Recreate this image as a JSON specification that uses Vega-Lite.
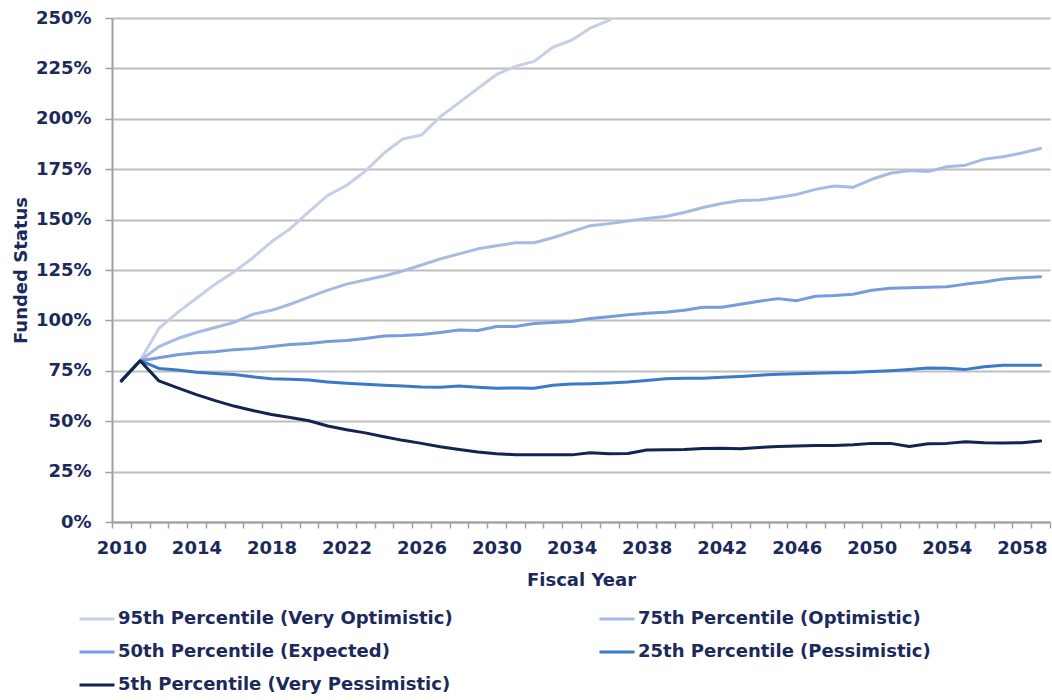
{
  "$schema": "https://vega.github.io/schema/vega-lite/v6.json",
  "autosize": {"type": "none"},
  "width": 938,
  "height": 504,
  "padding": {"left": 112, "top": 18, "right": 2, "bottom": 178},
  "background": "white",
  "config": {
    "font": "DejaVu Sans",
    "view": {"stroke": null},
    "axis": {
      "labelFont": "DejaVu Sans", "labelFontWeight": "bold", "labelFontSize": 18, "labelColor": "#1B2A5B",
      "titleFont": "DejaVu Sans", "titleFontWeight": "bold", "titleFontSize": 18, "titleColor": "#1B2A5B",
      "domainColor": "#A0A0A0", "domainWidth": 2, "tickColor": "#A0A0A0", "tickWidth": 1.5
    },
    "legend": {
      "labelFont": "DejaVu Sans", "labelFontWeight": "bold", "labelFontSize": 18, "labelColor": "#1B2A5B"
    }
  },
  "data": {"values": [
    {"year":2010,"series":"95th Percentile (Very Optimistic)","value":70},
    {"year":2011,"series":"95th Percentile (Very Optimistic)","value":80},
    {"year":2012,"series":"95th Percentile (Very Optimistic)","value":96},
    {"year":2013,"series":"95th Percentile (Very Optimistic)","value":104},
    {"year":2014,"series":"95th Percentile (Very Optimistic)","value":111},
    {"year":2015,"series":"95th Percentile (Very Optimistic)","value":118},
    {"year":2016,"series":"95th Percentile (Very Optimistic)","value":124},
    {"year":2017,"series":"95th Percentile (Very Optimistic)","value":131},
    {"year":2018,"series":"95th Percentile (Very Optimistic)","value":139},
    {"year":2019,"series":"95th Percentile (Very Optimistic)","value":145.5},
    {"year":2020,"series":"95th Percentile (Very Optimistic)","value":154},
    {"year":2021,"series":"95th Percentile (Very Optimistic)","value":162},
    {"year":2022,"series":"95th Percentile (Very Optimistic)","value":167},
    {"year":2023,"series":"95th Percentile (Very Optimistic)","value":174},
    {"year":2024,"series":"95th Percentile (Very Optimistic)","value":183},
    {"year":2025,"series":"95th Percentile (Very Optimistic)","value":190},
    {"year":2026,"series":"95th Percentile (Very Optimistic)","value":192},
    {"year":2027,"series":"95th Percentile (Very Optimistic)","value":201},
    {"year":2028,"series":"95th Percentile (Very Optimistic)","value":208},
    {"year":2029,"series":"95th Percentile (Very Optimistic)","value":215},
    {"year":2030,"series":"95th Percentile (Very Optimistic)","value":222},
    {"year":2031,"series":"95th Percentile (Very Optimistic)","value":226},
    {"year":2032,"series":"95th Percentile (Very Optimistic)","value":228.5},
    {"year":2033,"series":"95th Percentile (Very Optimistic)","value":235.5},
    {"year":2034,"series":"95th Percentile (Very Optimistic)","value":239},
    {"year":2035,"series":"95th Percentile (Very Optimistic)","value":245},
    {"year":2036,"series":"95th Percentile (Very Optimistic)","value":249},
    {"year":2037,"series":"95th Percentile (Very Optimistic)","value":254},

    {"year":2010,"series":"75th Percentile (Optimistic)","value":70},
    {"year":2011,"series":"75th Percentile (Optimistic)","value":80},
    {"year":2012,"series":"75th Percentile (Optimistic)","value":87},
    {"year":2013,"series":"75th Percentile (Optimistic)","value":91},
    {"year":2014,"series":"75th Percentile (Optimistic)","value":94},
    {"year":2015,"series":"75th Percentile (Optimistic)","value":96.5},
    {"year":2016,"series":"75th Percentile (Optimistic)","value":99},
    {"year":2017,"series":"75th Percentile (Optimistic)","value":103},
    {"year":2018,"series":"75th Percentile (Optimistic)","value":105},
    {"year":2019,"series":"75th Percentile (Optimistic)","value":108},
    {"year":2020,"series":"75th Percentile (Optimistic)","value":111.5},
    {"year":2021,"series":"75th Percentile (Optimistic)","value":115},
    {"year":2022,"series":"75th Percentile (Optimistic)","value":118},
    {"year":2023,"series":"75th Percentile (Optimistic)","value":120},
    {"year":2024,"series":"75th Percentile (Optimistic)","value":122},
    {"year":2025,"series":"75th Percentile (Optimistic)","value":124.5},
    {"year":2026,"series":"75th Percentile (Optimistic)","value":127.5},
    {"year":2027,"series":"75th Percentile (Optimistic)","value":130.5},
    {"year":2028,"series":"75th Percentile (Optimistic)","value":133},
    {"year":2029,"series":"75th Percentile (Optimistic)","value":135.5},
    {"year":2030,"series":"75th Percentile (Optimistic)","value":137},
    {"year":2031,"series":"75th Percentile (Optimistic)","value":138.5},
    {"year":2032,"series":"75th Percentile (Optimistic)","value":138.5},
    {"year":2033,"series":"75th Percentile (Optimistic)","value":141},
    {"year":2034,"series":"75th Percentile (Optimistic)","value":144},
    {"year":2035,"series":"75th Percentile (Optimistic)","value":147},
    {"year":2036,"series":"75th Percentile (Optimistic)","value":148},
    {"year":2037,"series":"75th Percentile (Optimistic)","value":149.3},
    {"year":2038,"series":"75th Percentile (Optimistic)","value":150.5},
    {"year":2039,"series":"75th Percentile (Optimistic)","value":151.5},
    {"year":2040,"series":"75th Percentile (Optimistic)","value":153.5},
    {"year":2041,"series":"75th Percentile (Optimistic)","value":156},
    {"year":2042,"series":"75th Percentile (Optimistic)","value":158},
    {"year":2043,"series":"75th Percentile (Optimistic)","value":159.5},
    {"year":2044,"series":"75th Percentile (Optimistic)","value":159.7},
    {"year":2045,"series":"75th Percentile (Optimistic)","value":161},
    {"year":2046,"series":"75th Percentile (Optimistic)","value":162.5},
    {"year":2047,"series":"75th Percentile (Optimistic)","value":165},
    {"year":2048,"series":"75th Percentile (Optimistic)","value":166.7},
    {"year":2049,"series":"75th Percentile (Optimistic)","value":166},
    {"year":2050,"series":"75th Percentile (Optimistic)","value":170},
    {"year":2051,"series":"75th Percentile (Optimistic)","value":173},
    {"year":2052,"series":"75th Percentile (Optimistic)","value":174.3},
    {"year":2053,"series":"75th Percentile (Optimistic)","value":173.8},
    {"year":2054,"series":"75th Percentile (Optimistic)","value":176.2},
    {"year":2055,"series":"75th Percentile (Optimistic)","value":177},
    {"year":2056,"series":"75th Percentile (Optimistic)","value":180},
    {"year":2057,"series":"75th Percentile (Optimistic)","value":181.2},
    {"year":2058,"series":"75th Percentile (Optimistic)","value":183},
    {"year":2059,"series":"75th Percentile (Optimistic)","value":185.3},

    {"year":2010,"series":"50th Percentile (Expected)","value":70},
    {"year":2011,"series":"50th Percentile (Expected)","value":80},
    {"year":2012,"series":"50th Percentile (Expected)","value":81.5},
    {"year":2013,"series":"50th Percentile (Expected)","value":83},
    {"year":2014,"series":"50th Percentile (Expected)","value":84},
    {"year":2015,"series":"50th Percentile (Expected)","value":84.5},
    {"year":2016,"series":"50th Percentile (Expected)","value":85.5},
    {"year":2017,"series":"50th Percentile (Expected)","value":86},
    {"year":2018,"series":"50th Percentile (Expected)","value":87},
    {"year":2019,"series":"50th Percentile (Expected)","value":88},
    {"year":2020,"series":"50th Percentile (Expected)","value":88.5},
    {"year":2021,"series":"50th Percentile (Expected)","value":89.5},
    {"year":2022,"series":"50th Percentile (Expected)","value":90},
    {"year":2023,"series":"50th Percentile (Expected)","value":91},
    {"year":2024,"series":"50th Percentile (Expected)","value":92.3},
    {"year":2025,"series":"50th Percentile (Expected)","value":92.5},
    {"year":2026,"series":"50th Percentile (Expected)","value":93},
    {"year":2027,"series":"50th Percentile (Expected)","value":94},
    {"year":2028,"series":"50th Percentile (Expected)","value":95.2},
    {"year":2029,"series":"50th Percentile (Expected)","value":95},
    {"year":2030,"series":"50th Percentile (Expected)","value":97},
    {"year":2031,"series":"50th Percentile (Expected)","value":97},
    {"year":2032,"series":"50th Percentile (Expected)","value":98.5},
    {"year":2033,"series":"50th Percentile (Expected)","value":99},
    {"year":2034,"series":"50th Percentile (Expected)","value":99.5},
    {"year":2035,"series":"50th Percentile (Expected)","value":101},
    {"year":2036,"series":"50th Percentile (Expected)","value":101.8},
    {"year":2037,"series":"50th Percentile (Expected)","value":102.8},
    {"year":2038,"series":"50th Percentile (Expected)","value":103.5},
    {"year":2039,"series":"50th Percentile (Expected)","value":104},
    {"year":2040,"series":"50th Percentile (Expected)","value":105},
    {"year":2041,"series":"50th Percentile (Expected)","value":106.5},
    {"year":2042,"series":"50th Percentile (Expected)","value":106.5},
    {"year":2043,"series":"50th Percentile (Expected)","value":108},
    {"year":2044,"series":"50th Percentile (Expected)","value":109.5},
    {"year":2045,"series":"50th Percentile (Expected)","value":110.8},
    {"year":2046,"series":"50th Percentile (Expected)","value":109.8},
    {"year":2047,"series":"50th Percentile (Expected)","value":112},
    {"year":2048,"series":"50th Percentile (Expected)","value":112.3},
    {"year":2049,"series":"50th Percentile (Expected)","value":113},
    {"year":2050,"series":"50th Percentile (Expected)","value":115},
    {"year":2051,"series":"50th Percentile (Expected)","value":116},
    {"year":2052,"series":"50th Percentile (Expected)","value":116.2},
    {"year":2053,"series":"50th Percentile (Expected)","value":116.5},
    {"year":2054,"series":"50th Percentile (Expected)","value":116.7},
    {"year":2055,"series":"50th Percentile (Expected)","value":118},
    {"year":2056,"series":"50th Percentile (Expected)","value":119},
    {"year":2057,"series":"50th Percentile (Expected)","value":120.5},
    {"year":2058,"series":"50th Percentile (Expected)","value":121.2},
    {"year":2059,"series":"50th Percentile (Expected)","value":121.7},

    {"year":2010,"series":"25th Percentile (Pessimistic)","value":70},
    {"year":2011,"series":"25th Percentile (Pessimistic)","value":80},
    {"year":2012,"series":"25th Percentile (Pessimistic)","value":76.2},
    {"year":2013,"series":"25th Percentile (Pessimistic)","value":75.4},
    {"year":2014,"series":"25th Percentile (Pessimistic)","value":74.3},
    {"year":2015,"series":"25th Percentile (Pessimistic)","value":73.7},
    {"year":2016,"series":"25th Percentile (Pessimistic)","value":73.2},
    {"year":2017,"series":"25th Percentile (Pessimistic)","value":72},
    {"year":2018,"series":"25th Percentile (Pessimistic)","value":71},
    {"year":2019,"series":"25th Percentile (Pessimistic)","value":70.8},
    {"year":2020,"series":"25th Percentile (Pessimistic)","value":70.4},
    {"year":2021,"series":"25th Percentile (Pessimistic)","value":69.5},
    {"year":2022,"series":"25th Percentile (Pessimistic)","value":68.8},
    {"year":2023,"series":"25th Percentile (Pessimistic)","value":68.3},
    {"year":2024,"series":"25th Percentile (Pessimistic)","value":67.8},
    {"year":2025,"series":"25th Percentile (Pessimistic)","value":67.5},
    {"year":2026,"series":"25th Percentile (Pessimistic)","value":67},
    {"year":2027,"series":"25th Percentile (Pessimistic)","value":66.8},
    {"year":2028,"series":"25th Percentile (Pessimistic)","value":67.5},
    {"year":2029,"series":"25th Percentile (Pessimistic)","value":66.8},
    {"year":2030,"series":"25th Percentile (Pessimistic)","value":66.3},
    {"year":2031,"series":"25th Percentile (Pessimistic)","value":66.5},
    {"year":2032,"series":"25th Percentile (Pessimistic)","value":66.3},
    {"year":2033,"series":"25th Percentile (Pessimistic)","value":67.8},
    {"year":2034,"series":"25th Percentile (Pessimistic)","value":68.5},
    {"year":2035,"series":"25th Percentile (Pessimistic)","value":68.6},
    {"year":2036,"series":"25th Percentile (Pessimistic)","value":68.9},
    {"year":2037,"series":"25th Percentile (Pessimistic)","value":69.4},
    {"year":2038,"series":"25th Percentile (Pessimistic)","value":70.2},
    {"year":2039,"series":"25th Percentile (Pessimistic)","value":71},
    {"year":2040,"series":"25th Percentile (Pessimistic)","value":71.3},
    {"year":2041,"series":"25th Percentile (Pessimistic)","value":71.3},
    {"year":2042,"series":"25th Percentile (Pessimistic)","value":71.8},
    {"year":2043,"series":"25th Percentile (Pessimistic)","value":72.2},
    {"year":2044,"series":"25th Percentile (Pessimistic)","value":72.8},
    {"year":2045,"series":"25th Percentile (Pessimistic)","value":73.3},
    {"year":2046,"series":"25th Percentile (Pessimistic)","value":73.5},
    {"year":2047,"series":"25th Percentile (Pessimistic)","value":73.8},
    {"year":2048,"series":"25th Percentile (Pessimistic)","value":74},
    {"year":2049,"series":"25th Percentile (Pessimistic)","value":74.1},
    {"year":2050,"series":"25th Percentile (Pessimistic)","value":74.6},
    {"year":2051,"series":"25th Percentile (Pessimistic)","value":75},
    {"year":2052,"series":"25th Percentile (Pessimistic)","value":75.6},
    {"year":2053,"series":"25th Percentile (Pessimistic)","value":76.4},
    {"year":2054,"series":"25th Percentile (Pessimistic)","value":76.3},
    {"year":2055,"series":"25th Percentile (Pessimistic)","value":75.7},
    {"year":2056,"series":"25th Percentile (Pessimistic)","value":77},
    {"year":2057,"series":"25th Percentile (Pessimistic)","value":77.7},
    {"year":2058,"series":"25th Percentile (Pessimistic)","value":77.7},
    {"year":2059,"series":"25th Percentile (Pessimistic)","value":77.7},

    {"year":2010,"series":"5th Percentile (Very Pessimistic)","value":70},
    {"year":2011,"series":"5th Percentile (Very Pessimistic)","value":80},
    {"year":2012,"series":"5th Percentile (Very Pessimistic)","value":70},
    {"year":2013,"series":"5th Percentile (Very Pessimistic)","value":66.5},
    {"year":2014,"series":"5th Percentile (Very Pessimistic)","value":63.2},
    {"year":2015,"series":"5th Percentile (Very Pessimistic)","value":60.2},
    {"year":2016,"series":"5th Percentile (Very Pessimistic)","value":57.5},
    {"year":2017,"series":"5th Percentile (Very Pessimistic)","value":55.3},
    {"year":2018,"series":"5th Percentile (Very Pessimistic)","value":53.3},
    {"year":2019,"series":"5th Percentile (Very Pessimistic)","value":51.8},
    {"year":2020,"series":"5th Percentile (Very Pessimistic)","value":50.2},
    {"year":2021,"series":"5th Percentile (Very Pessimistic)","value":47.6},
    {"year":2022,"series":"5th Percentile (Very Pessimistic)","value":45.8},
    {"year":2023,"series":"5th Percentile (Very Pessimistic)","value":44.2},
    {"year":2024,"series":"5th Percentile (Very Pessimistic)","value":42.3},
    {"year":2025,"series":"5th Percentile (Very Pessimistic)","value":40.5},
    {"year":2026,"series":"5th Percentile (Very Pessimistic)","value":39},
    {"year":2027,"series":"5th Percentile (Very Pessimistic)","value":37.3},
    {"year":2028,"series":"5th Percentile (Very Pessimistic)","value":36},
    {"year":2029,"series":"5th Percentile (Very Pessimistic)","value":34.7},
    {"year":2030,"series":"5th Percentile (Very Pessimistic)","value":33.8},
    {"year":2031,"series":"5th Percentile (Very Pessimistic)","value":33.4},
    {"year":2032,"series":"5th Percentile (Very Pessimistic)","value":33.3},
    {"year":2033,"series":"5th Percentile (Very Pessimistic)","value":33.3},
    {"year":2034,"series":"5th Percentile (Very Pessimistic)","value":33.3},
    {"year":2035,"series":"5th Percentile (Very Pessimistic)","value":34.3},
    {"year":2036,"series":"5th Percentile (Very Pessimistic)","value":33.8},
    {"year":2037,"series":"5th Percentile (Very Pessimistic)","value":34},
    {"year":2038,"series":"5th Percentile (Very Pessimistic)","value":35.7},
    {"year":2039,"series":"5th Percentile (Very Pessimistic)","value":35.8},
    {"year":2040,"series":"5th Percentile (Very Pessimistic)","value":36},
    {"year":2041,"series":"5th Percentile (Very Pessimistic)","value":36.5},
    {"year":2042,"series":"5th Percentile (Very Pessimistic)","value":36.6},
    {"year":2043,"series":"5th Percentile (Very Pessimistic)","value":36.3},
    {"year":2044,"series":"5th Percentile (Very Pessimistic)","value":37},
    {"year":2045,"series":"5th Percentile (Very Pessimistic)","value":37.5},
    {"year":2046,"series":"5th Percentile (Very Pessimistic)","value":37.7},
    {"year":2047,"series":"5th Percentile (Very Pessimistic)","value":37.9},
    {"year":2048,"series":"5th Percentile (Very Pessimistic)","value":37.9},
    {"year":2049,"series":"5th Percentile (Very Pessimistic)","value":38.3},
    {"year":2050,"series":"5th Percentile (Very Pessimistic)","value":39},
    {"year":2051,"series":"5th Percentile (Very Pessimistic)","value":39},
    {"year":2052,"series":"5th Percentile (Very Pessimistic)","value":37.4},
    {"year":2053,"series":"5th Percentile (Very Pessimistic)","value":38.8},
    {"year":2054,"series":"5th Percentile (Very Pessimistic)","value":39},
    {"year":2055,"series":"5th Percentile (Very Pessimistic)","value":39.8},
    {"year":2056,"series":"5th Percentile (Very Pessimistic)","value":39.3},
    {"year":2057,"series":"5th Percentile (Very Pessimistic)","value":39.2},
    {"year":2058,"series":"5th Percentile (Very Pessimistic)","value":39.3},
    {"year":2059,"series":"5th Percentile (Very Pessimistic)","value":40.2}
  ]},
  "mark": {"type": "line", "strokeWidth": 3, "clip": true, "strokeJoin": "round", "strokeCap": "round"},
  "encoding": {
    "x": {
      "field": "year", "type": "quantitative",
      "scale": {"domain": [2009.5, 2059.5], "nice": false, "zero": false},
      "axis": {
        "title": "Fiscal Year",
        "values": [2009.5,2010.5,2011.5,2012.5,2013.5,2014.5,2015.5,2016.5,2017.5,2018.5,2019.5,2020.5,2021.5,2022.5,2023.5,2024.5,2025.5,2026.5,2027.5,2028.5,2029.5,2030.5,2031.5,2032.5,2033.5,2034.5,2035.5,2036.5,2037.5,2038.5,2039.5,2040.5,2041.5,2042.5,2043.5,2044.5,2045.5,2046.5,2047.5,2048.5,2049.5,2050.5,2051.5,2052.5,2053.5,2054.5,2055.5,2056.5,2057.5,2058.5,2059.5],
        "labelExpr": "(datum.value - 2009.5) % 4 == 0 && datum.value < 2059 ? toString(datum.value + 0.5) : ''",
        "labelOffset": 9.38,
        "labelOverlap": false,
        "labelBound": false,
        "labelFlush": false,
        "labelPadding": 11,
        "tickSize": 6,
        "grid": false,
        "titlePadding": 14
      }
    },
    "y": {
      "field": "value", "type": "quantitative",
      "scale": {"domain": [0, 250], "nice": false},
      "axis": {
        "title": "Funded Status",
        "values": [0, 25, 50, 75, 100, 125, 150, 175, 200, 225, 250],
        "labelExpr": "datum.value + '%'",
        "grid": true,
        "gridColor": "#BEBEBE",
        "gridWidth": 2,
        "tickSize": 7,
        "labelPadding": 14,
        "titlePadding": 5
      }
    },
    "color": {
      "field": "series", "type": "nominal",
      "scale": {
        "domain": ["95th Percentile (Very Optimistic)", "75th Percentile (Optimistic)", "50th Percentile (Expected)", "25th Percentile (Pessimistic)", "5th Percentile (Very Pessimistic)"],
        "range": ["#C6D0E4", "#A6BBE3", "#789BDA", "#3C79C9", "#15234F"]
      },
      "legend": {
        "title": null,
        "orient": "none",
        "direction": "horizontal",
        "legendX": -34,
        "legendY": 582,
        "columns": 2,
        "columnPadding": 140,
        "rowPadding": 5,
        "symbolType": "stroke",
        "symbolSize": 1225,
        "symbolStrokeWidth": 3,
        "labelOffset": 2,
        "labelLimit": 600
      }
    }
  }
}
